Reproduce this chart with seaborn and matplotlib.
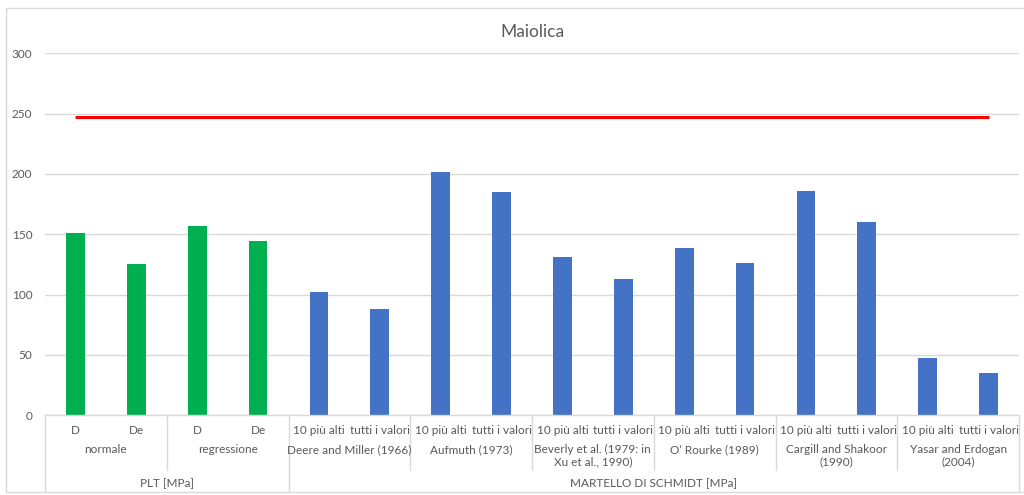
import numpy as np
import pandas as pd
import matplotlib
matplotlib.use("Agg")
import matplotlib.pyplot as plt
import seaborn as sns
from matplotlib.transforms import blended_transform_factory
from matplotlib.patches import Rectangle

# ---- data ----
title = "Maiolica"
plt_leaf = ["D", "De", "D", "De"]
plt_groups = ["normale", "regressione"]
plt_values = [151, 125, 157, 144]

schmidt_leaf = ["10 più alti", "tutti i valori"] * 6
schmidt_groups = [
    "Deere and Miller (1966)",
    "Aufmuth (1973)",
    "Beverly et al. (1979: in\nXu et al., 1990)",
    "O’ Rourke (1989)",
    "Cargill and Shakoor\n(1990)",
    "Yasar and Erdogan\n(2004)",
]
schmidt_values = [102, 88, 202, 185, 131, 113, 139, 126, 186, 160, 47, 35]

methods = ["PLT [MPa]", "MARTELLO DI SCHMIDT [MPa]"]
limit_value = 247
y_ticks = [0, 50, 100, 150, 200, 250, 300]

# ---- table ----
leaf = plt_leaf + schmidt_leaf
values = plt_values + schmidt_values
method = [methods[0]] * len(plt_values) + [methods[1]] * len(schmidt_values)
df = pd.DataFrame({"pos": np.arange(len(values)), "value": values, "method": method})

# ---- style ----
sns.set_theme(style="white")
plt.rcParams["font.family"] = ["Lato", "DejaVu Sans"]
text_color = "#595959"
line_color = "#d9d9d9"

W, H = 1024, 495
fig = plt.figure(figsize=(W / 100, H / 100), dpi=100)
ax = fig.add_axes([45 / W, 1 - 415 / H, (1019 - 45) / W, (415 - 53.5) / H])

sns.barplot(data=df, x="pos", y="value", hue="method",
            palette={methods[0]: "#00B050", methods[1]: "#4472C4"},
            dodge=False, width=0.31, saturation=1, linewidth=0,
            legend=False, ax=ax)

n = len(values)
ax.plot([0, n - 1], [limit_value, limit_value], color="#FF0000", lw=2.2,
        solid_capstyle="butt", zorder=3)

ax.set_xlim(-0.5, n - 0.5)
ax.set_ylim(0, 300)
ax.set_yticks(y_ticks)
ax.yaxis.grid(True, color=line_color, lw=1)
ax.set_axisbelow(True)
ax.tick_params(axis="y", length=0, pad=9, labelsize=8.5, labelcolor=text_color)
ax.set_xticks([])
ax.set_xlabel("")
ax.set_ylabel("")
for side in ["left", "right", "top"]:
    ax.spines[side].set_visible(False)
ax.spines["bottom"].set_color(line_color)
ax.spines["bottom"].set_linewidth(1)

ax.set_title(title, fontsize=12.5, color=text_color, y=1.0, pad=12)

# ---- multi-level category axis ----
tr = blended_transform_factory(ax.transData, fig.transFigure)


def fy(px):
    return 1 - px / H


fs = 8.5
for i, lab in enumerate(leaf):
    ax.text(i, fy(430), lab, transform=tr, ha="center", va="center",
            fontsize=fs, color=text_color, clip_on=False)

groups = plt_groups + schmidt_groups
for g, lab in enumerate(groups):
    ax.text(2 * g + 0.5, fy(444), lab, transform=tr, ha="center", va="top",
            fontsize=fs, color=text_color, clip_on=False, linespacing=1.1)

method_spans = [(0, len(plt_values)), (len(plt_values), n)]
for (a, b), lab in zip(method_spans, methods):
    ax.text((a + b - 1) / 2, fy(484), lab, transform=tr, ha="center", va="center",
            fontsize=fs, color=text_color, clip_on=False)

# separators between groups
outer = {-0.5, len(plt_values) - 0.5, n - 0.5}
for k in range(0, n + 1, 2):
    xb = k - 0.5
    bottom = 492 if xb in outer else 470
    ax.plot([xb, xb], [fy(415), fy(bottom)], transform=tr, color=line_color,
            lw=1, clip_on=False)

# chart frame
fig.patches.append(Rectangle((6 / W, fy(492)), 1.1, fy(8) - fy(492),
                             transform=fig.transFigure, fill=False,
                             edgecolor=line_color, lw=1))

fig.savefig("out.png", dpi=100)
